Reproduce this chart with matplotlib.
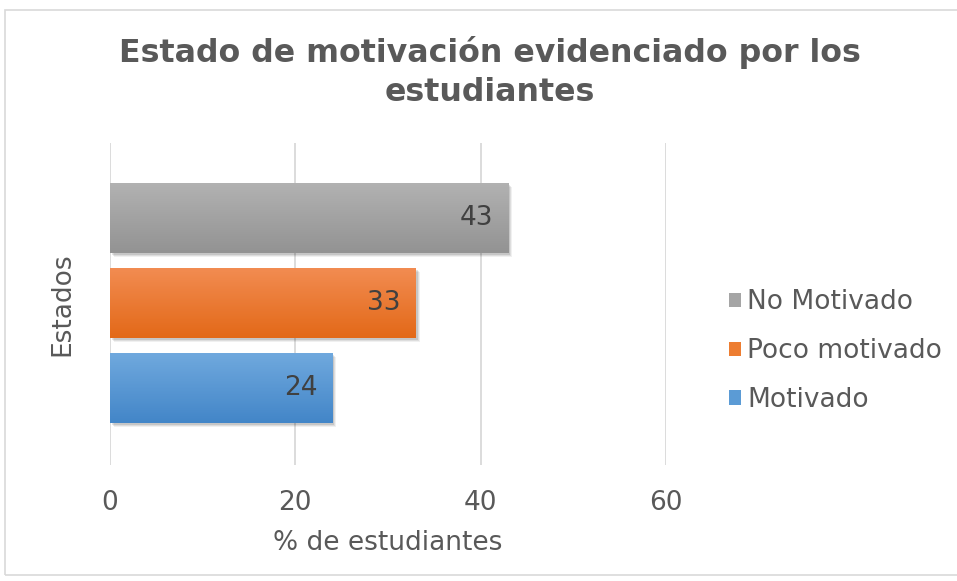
import numpy as np
import matplotlib.pyplot as plt
import matplotlib.transforms as mtransforms
from matplotlib.patches import Rectangle, Patch
from matplotlib.colors import LinearSegmentedColormap

# series (one category "Estados"), bottom to top
series = ['Motivado', 'Poco motivado', 'No Motivado']
values = [24, 33, 43]
top_colors = ['#70a9de', '#f28c52', '#b2b2b2']
bottom_colors = ['#4386c8', '#e36918', '#939393']
legend_colors = ['#5b9bd5', '#ed7d31', '#a5a5a5']
xticks = [0, 20, 40, 60]

text_color = '#595959'
plt.rcParams['font.family'] = ['DejaVu Sans']

fig = plt.figure(figsize=(9.57, 5.81), dpi=100)

# light frame around the chart
fig.patches.append(Rectangle((5/957, 6/581), 960/957, 565/581, transform=fig.transFigure,
                             fill=False, edgecolor='#d9d9d9', linewidth=1.2))

ax = fig.add_axes([110/957, 116/581, 556/957, 322/581])
pos = np.arange(len(series))
h = 70/85

bars = ax.barh(pos, values, height=h, color='none', zorder=3)
for i, b in enumerate(bars):
    x0, y0 = b.get_x(), b.get_y()
    w, hh = b.get_width(), b.get_height()
    # soft shadow
    for k, a in [(4, 0.06), (3, 0.08), (2, 0.10)]:
        sh = mtransforms.offset_copy(ax.transData, fig=fig, x=k*0.72, y=-k*0.72, units='points')
        ax.add_patch(Rectangle((x0, y0), w, hh, transform=sh, color='black',
                               alpha=a, linewidth=0, zorder=2))
    cmap = LinearSegmentedColormap.from_list('g%d' % i, [bottom_colors[i], top_colors[i]])
    grad = np.linspace(0, 1, 64).reshape(-1, 1)
    im = ax.imshow(grad, extent=[x0, x0 + w, y0, y0 + hh], origin='lower',
                   aspect='auto', cmap=cmap, zorder=3)
    im.set_clip_path(b)
    lab = mtransforms.offset_copy(ax.transData, fig=fig, x=-15*0.72, y=0, units='points')
    ax.text(values[i], pos[i], str(values[i]), transform=lab, ha='right', va='center',
            fontsize=19, color='#404040', zorder=5)

ax.set_xlim(0, 60)
ax.set_ylim(-0.906, 2.882)
ax.set_xticks(xticks)
ax.set_yticks([])
ax.grid(axis='x', color='#d9d9d9', linewidth=1.3, zorder=0)
for s in ax.spines.values():
    s.set_visible(False)
ax.tick_params(axis='x', length=0, pad=18, labelsize=19, labelcolor=text_color)
ax.set_xlabel('% de estudiantes', fontsize=19, color=text_color, labelpad=10)
ax.set_ylabel('Estados', fontsize=19, color=text_color, labelpad=25)

fig.text(490/957, 1 - 72/581, 'Estado de motivación evidenciado por los\nestudiantes',
         ha='center', va='center', fontsize=22.8, fontweight='bold', color=text_color,
         linespacing=1.3)

handles = [Patch(facecolor=legend_colors[i], edgecolor='none') for i in range(len(series))][::-1]
fig.legend(handles, series[::-1], loc='center left', bbox_to_anchor=(729/957, 1 - 351/581),
           frameon=False, fontsize=19, handlelength=0.45, handleheight=0.45,
           handletextpad=0.25, labelspacing=0.87, borderpad=0, borderaxespad=0,
           labelcolor=text_color)

fig.savefig('out.png', dpi=100)
